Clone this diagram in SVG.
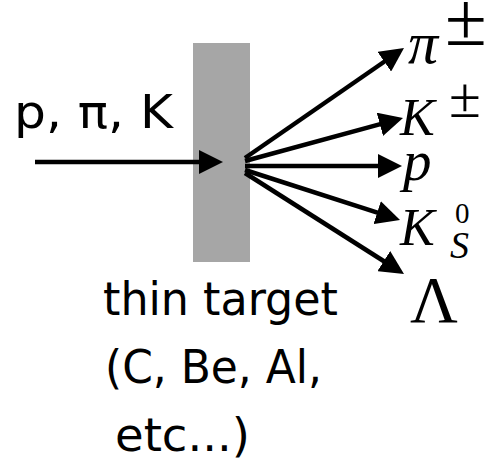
<svg xmlns="http://www.w3.org/2000/svg" width="490" height="458" viewBox="0 0 490 458">
<style>
.sans{font-family:"DejaVu Sans","Liberation Sans",sans-serif;fill:#000}
.math{font-family:"Liberation Serif","DejaVu Serif",serif;fill:#000}
.it{font-style:italic}
.arr{stroke:#000;stroke-width:4.5;fill:none;marker-end:url(#ah)}
</style>
<defs>
<marker id="ah" markerUnits="userSpaceOnUse" markerWidth="24" markerHeight="24" viewBox="0 0 24 24" refX="10" refY="12" orient="auto">
<path d="M0,0 L24,12 L0,24 z" fill="#000"/>
</marker>
</defs>
<g id="target">
<rect x="193" y="43" width="57" height="219" fill="#a6a6a6"/>
<text class="sans" x="103" y="315" font-size="46" textLength="235" lengthAdjust="spacingAndGlyphs">thin target</text>
<text class="sans" x="105" y="383" font-size="46" textLength="217" lengthAdjust="spacingAndGlyphs">(C, Be, Al,</text>
<text class="sans" x="115" y="451" font-size="46" textLength="135" lengthAdjust="spacingAndGlyphs">etc...)</text>
</g>
<g id="beam">
<text class="sans" x="14" y="128" font-size="46" textLength="159" lengthAdjust="spacingAndGlyphs">p, π, K</text>
</g>
<g id="connectors">
<line class="arr" x1="35" y1="162" x2="209" y2="162"/>
<line class="arr" x1="245" y1="158" x2="392.5" y2="56"/>
<line class="arr" x1="245" y1="161" x2="389.5" y2="121.7"/>
<line class="arr" x1="245" y1="166" x2="388" y2="166"/>
<line class="arr" x1="245" y1="170" x2="386.7" y2="215.7"/>
<line class="arr" x1="245" y1="173" x2="392.2" y2="266.5"/>
</g>
<g id="pi">
<text class="math it" x="408" y="63" font-size="60">π</text>
<text class="math" x="445" y="45" font-size="76">±</text>
</g>
<g id="kaon">
<text class="math it" x="400" y="135" font-size="52">K</text>
<text class="math" x="449" y="117" font-size="58">±</text>
</g>
<g id="proton">
<text class="math it" x="403" y="180" font-size="57">p</text>
</g>
<g id="k0s">
<text class="math it" x="400" y="245" font-size="52">K</text>
<text class="math" x="455" y="223" font-size="29">0</text>
<text class="math it" x="450" y="258" font-size="38">S</text>
</g>
<g id="lambda">
<text class="math" x="410" y="322" font-size="66">Λ</text>
</g>
</svg>
